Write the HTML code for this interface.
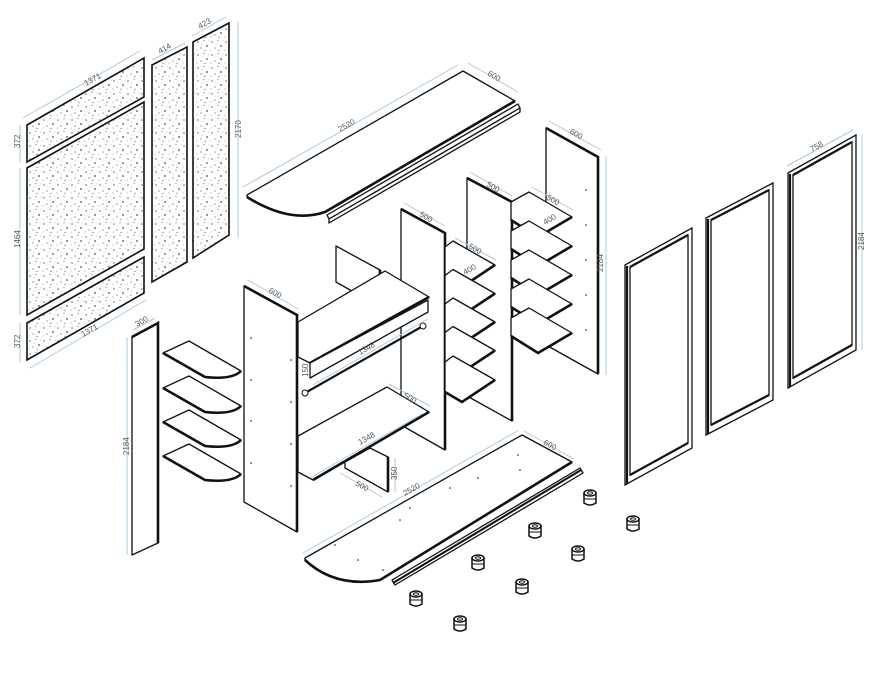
<!DOCTYPE html>
<html><head><meta charset="utf-8"><style>
html,body{margin:0;padding:0;background:#fff}
svg{display:block}
text{font-family:"Liberation Sans",sans-serif;font-size:8px;fill:#555}
.p{fill:#fff;stroke:#111;stroke-width:1.3;stroke-linejoin:round}
.t{fill:none;stroke:#111;stroke-width:2.6}
.d{stroke:#a9cbe6;stroke-width:1;fill:none}
.s{fill:url(#spk);stroke:#111;stroke-width:1.6}
</style></head><body>
<svg width="887" height="683" viewBox="0 0 887 683" xmlns="http://www.w3.org/2000/svg">
<defs>
<pattern id="spk" width="14" height="13" patternUnits="userSpaceOnUse">
<rect width="14" height="13" fill="#fff"/>
<circle cx="2" cy="3" r="0.9" fill="#888"/><circle cx="8" cy="1.5" r="0.7" fill="#999"/>
<circle cx="11" cy="7" r="1" fill="#777"/><circle cx="5" cy="9" r="0.8" fill="#999"/>
<circle cx="1" cy="11" r="0.6" fill="#aaa"/><circle cx="9" cy="11.5" r="0.7" fill="#888"/>
<circle cx="6" cy="5" r="0.5" fill="#aaa"/><circle cx="13" cy="2" r="0.5" fill="#aaa"/>
</pattern>
<g id="foot"><path d="M-6,-4 L-6,6 Q0,10 6,6 L6,-4 Z" fill="#fff" stroke="#111" stroke-width="1.5"/><ellipse cx="0" cy="-4" rx="6" ry="3" fill="#fff" stroke="#111" stroke-width="1.5"/><ellipse cx="0" cy="-4" rx="2.5" ry="1.3" fill="none" stroke="#111"/><line x1="-6" y1="2" x2="6" y2="2" stroke="#111"/></g>
<g id="qs"><path class="p" d="M163,353 L189,341 L241,371 Q232,380 205,377 Z"/><path class="t" d="M163,353 L205,377 Q232,380 241,371" stroke-width="2"/></g>
<g id="sh1"><polygon class="p" points="445,247 453,241 495,265 462,287 445,277"/><path class="t" d="M445,277 L462,287 L495,265" stroke-width="2"/></g>
<g id="sh2"><polygon class="p" points="511,202 529,192 572,217 538,237 511,220"/><path class="t" d="M511,220 L538,237 L572,217" stroke-width="2"/></g>
</defs>

<!-- speckled back panels -->
<polygon class="s" points="27,125 144,58 144,97 27,162"/>
<polygon class="s" points="27,168 144,102 144,249 27,315"/>
<polygon class="s" points="27,323 144,257 144,293 27,360"/>
<polygon class="s" points="152,65 187,47 187,262 152,282"/>
<polygon class="s" points="193,42 229,23 229,235 193,258"/>

<line class="d" x1="23" y1="118" x2="140" y2="51"/><text transform="translate(86,86) rotate(-29)">1371</text>
<line class="d" x1="20" y1="125" x2="20" y2="162"/><text transform="translate(20,148) rotate(-90)">372</text>
<line class="d" x1="20" y1="168" x2="20" y2="315"/><text transform="translate(20,248) rotate(-90)">1464</text>
<line class="d" x1="20" y1="323" x2="20" y2="362"/><text transform="translate(20,348) rotate(-90)">372</text>
<line class="d" x1="30" y1="368" x2="146" y2="300"/><text transform="translate(83,337) rotate(-29)">1371</text>
<line class="d" x1="152" y1="60" x2="185" y2="43"/><text transform="translate(160,54) rotate(-29)">414</text>
<line class="d" x1="192" y1="36" x2="226" y2="17"/><text transform="translate(200,29) rotate(-29)">423</text>
<line class="d" x1="238" y1="22" x2="238" y2="238"/><text transform="translate(241,138) rotate(-90)">2170</text>

<!-- top panel -->
<path class="p" d="M247,195 L463,71 L515,101 L325,212 Q290,224 247,197 Z"/>
<path class="t" d="M247,197 Q290,224 325,212 L515,101" stroke-width="2.4"/>
<polygon class="p" points="327,215 518,104 520,108 329,219"/>
<polygon class="p" points="329,219 520,108 520,112 329,223"/>
<line class="d" x1="243" y1="187" x2="458" y2="65"/><text transform="translate(340,132) rotate(-29)">2520</text>
<line class="d" x1="468" y1="63" x2="518" y2="92"/><text transform="translate(487,75) rotate(29)">600</text>

<!-- third tall panel (600) -->
<polygon class="p" points="546,128 598,157 598,374 546,345"/>
<path class="t" d="M546,128 L598,157 L598,374"/>
<g fill="#111"><circle cx="586" cy="190" r="0.8"/><circle cx="586" cy="225" r="0.8"/><circle cx="586" cy="260" r="0.8"/><circle cx="586" cy="295" r="0.8"/><circle cx="586" cy="330" r="0.8"/></g>
<line class="d" x1="549" y1="121" x2="601" y2="150"/><text transform="translate(569,133) rotate(29)">600</text>
<line class="d" x1="606" y1="156" x2="606" y2="375"/><text transform="translate(603,272) rotate(-90)">2184</text>

<!-- second tall panel (500) -->
<polygon class="p" points="467,178 512,202 512,421 467,396"/>
<path class="t" d="M467,178 L512,202 L512,421"/>
<line class="d" x1="470" y1="172" x2="512" y2="196"/><text transform="translate(486,186) rotate(29)">500</text>
<use href="#sh2"/><use href="#sh2" y="29"/><use href="#sh2" y="58"/><use href="#sh2" y="87"/><use href="#sh2" y="116"/>
<line class="d" x1="532" y1="187" x2="573" y2="210"/><text transform="translate(546,199) rotate(29)">500</text>
<text transform="translate(545,225) rotate(-29)">400</text>

<!-- middle tall panel (500) -->
<polygon class="p" points="401,209 445,233 445,450 401,425"/>
<path class="t" d="M401,209 L445,233 L445,450"/>
<line class="d" x1="404" y1="203" x2="445" y2="226"/><text transform="translate(419,216) rotate(29)">500</text>
<use href="#sh1"/><use href="#sh1" y="28.5"/><use href="#sh1" y="57"/><use href="#sh1" y="85.5"/><use href="#sh1" y="115"/>
<line class="d" x1="455" y1="238" x2="496" y2="260"/><text transform="translate(468,248) rotate(29)">500</text>
<text transform="translate(465,275) rotate(-29)">400</text>

<!-- middle box -->
<polygon class="p" points="336,246 380,270 380,307 336,282"/>
<path class="t" d="M380,270 L380,307" />
<polygon class="p" points="298,322 385,271 429,297 310,363 298,357"/>
<path class="t" d="M310,363 L429,297"/>
<polygon class="p" points="310,363 428,300 428,312 310,378"/>
<line x1="305" y1="393" x2="423" y2="326" stroke="#111" stroke-width="2.2"/>
<circle cx="305" cy="393" r="3" fill="#fff" stroke="#111"/><circle cx="423" cy="326" r="3" fill="#fff" stroke="#111"/>
<line class="d" x1="313" y1="385" x2="428" y2="319"/>
<text transform="translate(360,355) rotate(-29)">1348</text>
<text transform="translate(308,377) rotate(-90)">150</text>
<polygon class="p" points="345,462 370,448 388,457 388,492 345,468"/>
<path class="t" d="M388,457 L388,492"/>
<polygon class="p" points="298,436 387,387 429,412 313,480 298,472"/>
<path class="t" d="M313,480 L429,412"/>
<line class="d" x1="389" y1="384" x2="430" y2="406"/><text transform="translate(403,397) rotate(29)">500</text>
<line class="d" x1="310" y1="478" x2="422" y2="414"/><text transform="translate(360,445) rotate(-29)">1348</text>
<line class="d" x1="395" y1="458" x2="395" y2="492"/><text transform="translate(397,480) rotate(-90)">350</text>
<line class="d" x1="340" y1="473" x2="382" y2="497"/><text transform="translate(355,485) rotate(29)">500</text>

<!-- big side panel (600) -->
<polygon class="p" points="244,286 297,315 297,532 244,502"/>
<path class="t" d="M244,286 L297,315 L297,532"/>
<g fill="#111"><circle cx="251" cy="338" r="0.8"/><circle cx="251" cy="380" r="0.8"/><circle cx="251" cy="421" r="0.8"/><circle cx="251" cy="463" r="0.8"/><circle cx="291" cy="360" r="0.8"/><circle cx="291" cy="402" r="0.8"/><circle cx="291" cy="444" r="0.8"/><circle cx="291" cy="486" r="0.8"/></g>
<line class="d" x1="248" y1="280" x2="298" y2="309"/><text transform="translate(268,292) rotate(29)">600</text>

<use href="#qs"/><use href="#qs" y="35"/><use href="#qs" y="69"/><use href="#qs" y="103"/>

<!-- narrow panel (300) -->
<polygon class="p" points="132,337 158,323 158,543 132,555"/>
<path class="t" d="M132,337 L158,323 L158,543"/>
<line class="d" x1="133" y1="330" x2="155" y2="318"/><text transform="translate(137,327) rotate(-29)">300</text>
<line class="d" x1="127" y1="337" x2="127" y2="555"/><text transform="translate(129,455) rotate(-90)">2184</text>

<!-- bottom panel -->
<path class="p" d="M305,558 L522,435 L572,462 L380,580 Q335,588 305,560 Z"/>
<path class="t" d="M305,560 Q335,588 380,580 L572,462" stroke-width="2.2"/>
<polygon class="p" points="392,580 580,468 583,473 395,585"/>
<line x1="393" y1="583" x2="581" y2="470" stroke="#111" stroke-width="2"/>
<g fill="#111"><circle cx="335" cy="545" r="0.8"/><circle cx="358" cy="560" r="0.8"/><circle cx="400" cy="520" r="0.8"/><circle cx="410" cy="508" r="0.8"/><circle cx="450" cy="488" r="0.8"/><circle cx="478" cy="478" r="0.8"/><circle cx="520" cy="470" r="0.8"/><circle cx="518" cy="455" r="0.8"/><circle cx="383" cy="570" r="0.8"/></g>
<line class="d" x1="303" y1="553" x2="519" y2="430"/><text transform="translate(405,496) rotate(-29)">2520</text>
<line class="d" x1="524" y1="431" x2="574" y2="459"/><text transform="translate(543,444) rotate(29)">600</text>

<use href="#foot" x="590" y="497"/><use href="#foot" x="633" y="523"/><use href="#foot" x="535" y="530"/><use href="#foot" x="578" y="553"/><use href="#foot" x="478" y="562"/><use href="#foot" x="522" y="586"/><use href="#foot" x="416" y="598"/><use href="#foot" x="460" y="623"/>

<!-- doors -->
<g fill="#fff" stroke="#111" stroke-width="1.3">
<polygon points="625,265 692,228 692,448 625,485"/>
<polygon points="630,267 688,235 688,443 630,475"/>
<polygon points="706,218 773,183 773,400 706,435"/>
<polygon points="711,220 769,190 769,395 711,425"/>
<polygon points="788,173 856,135 856,350 788,388"/>
<polygon points="793,175 852,142 852,345 793,378"/>
</g>
<g stroke="#111" stroke-width="2.2">
<line x1="630" y1="267" x2="688" y2="235"/><line x1="630" y1="475" x2="688" y2="443"/><line x1="627" y1="266" x2="627" y2="484"/>
<line x1="711" y1="220" x2="769" y2="190"/><line x1="711" y1="425" x2="769" y2="395"/><line x1="708" y1="219" x2="708" y2="434"/>
<line x1="793" y1="175" x2="852" y2="142"/><line x1="793" y1="378" x2="852" y2="345"/><line x1="790" y1="174" x2="790" y2="387"/>
</g>
<line class="d" x1="787" y1="166" x2="853" y2="130"/><text transform="translate(812,152) rotate(-29)">758</text>
<line class="d" x1="862" y1="135" x2="862" y2="350"/><text transform="translate(864,250) rotate(-90)">2184</text>
</svg>
</body></html>
